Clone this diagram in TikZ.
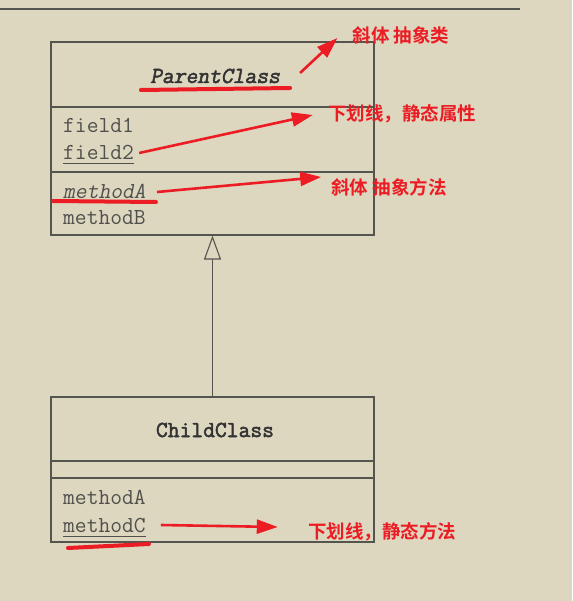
\documentclass[tikz,border=0pt]{standalone}
\usepackage{fontspec}
\newfontfamily\umlmono{Latin Modern Mono}
\newfontfamily\umlslant{Latin Modern Mono}[FakeSlant=0.2]
\newfontfamily\umlbold{Latin Modern Mono}[FakeBold=2.2]
\newfontfamily\umlboldslant{Latin Modern Mono}[FakeBold=2.2,FakeSlant=0.2]
\newfontfamily\cjk{Noto Sans CJK SC}[BoldFont={* Bold}]
\usetikzlibrary{arrows.meta}
\definecolor{bg}{RGB}{222,215,192}
\definecolor{umlgray}{RGB}{85,85,80}
\definecolor{txtgray}{RGB}{80,80,76}
\definecolor{mark}{RGB}{236,28,36}
\tikzset{
  umlline/.style={draw=umlgray, line width=1.1pt},
  section/.style={umlline, rectangle, minimum width=323pt, inner sep=0pt},
  member/.style={font=\umlmono\fontsize{22.9}{24}\selectfont, text=txtgray, inner sep=0pt, anchor=west},
  classname/.style={font=\umlbold\fontsize{22.9}{24}\selectfont, text=black!80, inner sep=0pt},
  note/.style={font=\cjk\bfseries\fontsize{18.5}{20}\selectfont, text=mark, inner sep=0pt},
  redarrow/.style={draw=mark, line width=2.6pt, -{Triangle[length=21pt,width=14pt]}},
  redmark/.style={draw=mark, line width=4pt, line cap=round},
}
\begin{document}
\begin{tikzpicture}[x=1pt,y=-1pt]
\fill[bg] (0,0) rectangle (572,601);
\useasboundingbox (0,0) rectangle (572,601);
\draw[umlline] (0,9) -- (520,9);
% parent class
\node[section, minimum height=65pt] (ptitle) at (212.5,74.5) {};
\node[section, minimum height=65pt] (pfields) at (212.5,139.5) {};
\node[section, minimum height=63pt] (pmethods) at (212.5,203.5) {};
\node[classname, font=\umlboldslant\fontsize{22.9}{24}\selectfont] (pname) at (215,76) {ParentClass};
\node[member] (pf1) at (63,125) {field1};
\node[member] (pf2) at (63,152) {field2};
\draw[draw=txtgray, line width=0.9pt] ([yshift=-4pt]pf2.base west) -- ([yshift=-4pt]pf2.base east);
\node[member, font=\umlslant\fontsize{22.9}{24}\selectfont] (pmA) at (63,191) {methodA};
\node[member] (pmB) at (63,218) {methodB};
% child class
\node[section, minimum height=64pt] (ctitle) at (212.5,429) {};
\node[section, minimum height=17pt] (cfields) at (212.5,469.5) {};
\node[section, minimum height=64pt] (cmethods) at (212.5,510) {};
\node[classname] (cname) at (215,430) {ChildClass};
\node[member] (cmA) at (63,497) {methodA};
\node[member] (cmC) at (63,525) {methodC};
\draw[draw=txtgray, line width=0.9pt] ([yshift=-4pt]cmC.base west) -- ([yshift=-4pt]cmC.base east);
% inheritance
\draw[umlline, -{Triangle[open, fill=bg, length=24pt, width=17pt]}] (ctitle.north) -- (pmethods.south);
% notes
\node[note] (l1) at (401,35) {斜体 抽象类};
\node[note] (l2) at (402,114) {下划线，静态属性};
\node[note] (l3) at (389,187) {斜体 抽象方法};
\node[note] (l4) at (382,532) {下划线，静态方法};
\draw[redarrow] ([shift={(20,-3)}]pname.east) -- ([shift={(-15,3)}]l1.west);
\draw[redarrow] ([shift={(5,1)}]pf2.east) -- ([shift={(-15,1)}]l2.west);
\draw[redarrow] ([shift={(11,1)}]pmA.east) -- ([shift={(-10,-10)}]l3.west);
\draw[redarrow] ([shift={(15,0)}]cmC.east) -- ([shift={(-30,-5)}]l4.west);
\draw[redmark] ([shift={(-9,14)}]pname.west) -- ([shift={(10,12)}]pname.east);
\draw[redmark] ([shift={(-10,10)}]pmA.west) -- ([shift={(10,11)}]pmA.east);
\draw[redmark] ([shift={(5,23)}]cmC.west) -- ([shift={(3,19)}]cmC.east);
\end{tikzpicture}
\end{document}
